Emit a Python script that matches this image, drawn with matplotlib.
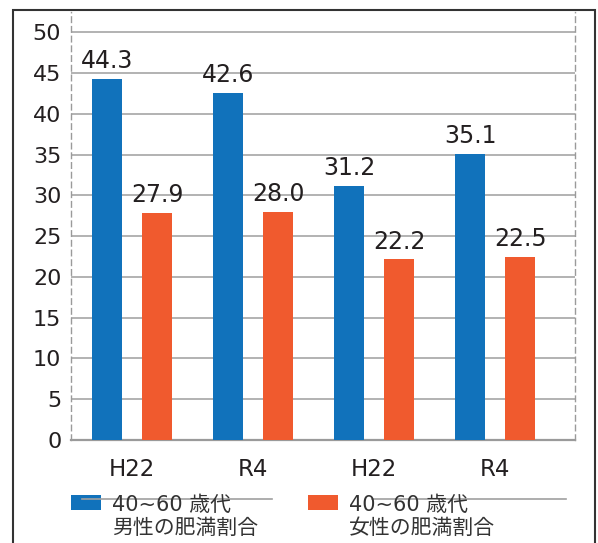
import numpy as np
import matplotlib.pyplot as plt
from matplotlib.patches import Rectangle
from matplotlib.lines import Line2D

# データ
periods = ['H22', 'R4', 'H22', 'R4']
male = [44.3, 42.6, 31.2, 35.1]
female = [27.9, 28.0, 22.2, 22.5]
legend_labels = [('40~60 歳代', '男性の肥満割合'), ('40~60 歳代', '女性の肥満割合')]

blue = '#1172bb'
orange = '#f05a2e'
txt = '#231f20'
fonts = ['DejaVu Sans', 'Noto Sans CJK JP']
plt.rcParams['font.family'] = fonts

W, H = 598, 543
fig = plt.figure(figsize=(W / 100, H / 100), dpi=100)
ax = fig.add_axes([71 / W, 103 / H, 504 / W, 428 / H])

x = np.arange(len(periods))
off = 25 / 121
w = 30 / 121
bm = ax.bar(x - off, male, w, color=blue, zorder=3)
bf = ax.bar(x + off, female, w, color=orange, zorder=3)

for bars, vals in [(bm, male), (bf, female)]:
    for b, v in zip(bars, vals):
        ax.annotate(f'{v:.1f}', (b.get_x() + b.get_width() / 2, v),
                    xytext=(0, 7.5), textcoords='offset points',
                    ha='center', va='baseline', fontsize=17, color=txt)

ax.set_xlim(-0.504, 3.66)
ax.set_ylim(0, 52.5)
ax.set_yticks(range(0, 51, 5))
ax.set_xticks(x)
ax.set_xticklabels(periods)
ax.tick_params(axis='y', length=0, pad=7, labelsize=16, labelcolor=txt)
ax.tick_params(axis='x', length=0, pad=13, labelsize=16.5, labelcolor=txt)
ax.yaxis.grid(True, color='#a5a5a5', lw=1.2)
ax.set_axisbelow(True)

ax.spines['top'].set_visible(False)
for s in ['left', 'right']:
    ax.spines[s].set_color('#9a9a9a')
    ax.spines[s].set_linewidth(1.0)
    ax.spines[s].set_linestyle((0, (4, 3)))
ax.spines['bottom'].set_color('#9a9a9a')
ax.spines['bottom'].set_linewidth(1.6)

# 外枠
fig.add_artist(Rectangle((13 / W, -0.05), 582 / W, 1.05 - 10 / H, transform=fig.transFigure,
                         fill=False, ec='#333333', lw=1.5))

# 凡例
for i, (col, (l1, l2)) in enumerate(zip([blue, orange], legend_labels)):
    x0 = 71 + i * 237
    fig.add_artist(Rectangle((x0 / W, (H - 510) / H), 30 / W, 15 / H,
                             transform=fig.transFigure, fc=col, ec='none'))
    fig.text((x0 + 41) / W, (H - 511) / H, l1, fontsize=15, color='#333333',
             va='baseline', family=fonts)
    fig.text((x0 + 41) / W, (H - 534) / H, l2, fontsize=15, color='#333333',
             va='baseline', family=fonts)
fig.add_artist(Line2D([82 / W, 272 / W], [(H - 499) / H] * 2, transform=fig.transFigure,
                      color='#a0a0a0', lw=1.2))
fig.add_artist(Line2D([372 / W, 566 / W], [(H - 499) / H] * 2, transform=fig.transFigure,
                      color='#a0a0a0', lw=1.2))

fig.savefig('out.png', dpi=100)
